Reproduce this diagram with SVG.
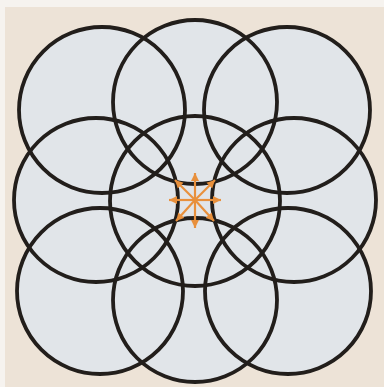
<svg xmlns="http://www.w3.org/2000/svg" width="384" height="387" viewBox="0 0 384 387">
  <defs>
    <style>
      .fill { fill: #e1e5e9; stroke: none; }
      .ring { fill: none; stroke: #221e1b; stroke-width: 3.8; }
      .arrow { stroke: #e8903c; stroke-width: 2.2; fill: none; marker-end: url(#head); }
    </style>
    <marker id="head" markerUnits="userSpaceOnUse" markerWidth="9" markerHeight="9" refX="8" refY="4.5" orient="auto">
      <path d="M0,0.5 L8,4.5 L0,8.5 Z" fill="#e8903c"/>
    </marker>
    <circle id="c-tl" cx="102" cy="110" r="83"/>
    <circle id="c-tm" cx="195" cy="102" r="82"/>
    <circle id="c-tr" cx="287" cy="110" r="83"/>
    <circle id="c-ml" cx="96" cy="200" r="82"/>
    <circle id="c-c" cx="195" cy="201" r="85"/>
    <circle id="c-mr" cx="294" cy="200" r="82"/>
    <circle id="c-bl" cx="100" cy="291" r="83"/>
    <circle id="c-bm" cx="195" cy="300" r="82"/>
    <circle id="c-br" cx="288" cy="291" r="83"/>
  </defs>
  <rect width="384" height="387" fill="#ede3d7"/>
  <rect x="0" y="0" width="384" height="7" fill="#f6f3ef"/>
  <rect x="0" y="0" width="5" height="387" fill="#f6f3ef"/>
  <g id="fills">
    <use href="#c-tl" class="fill"/>
    <use href="#c-tm" class="fill"/>
    <use href="#c-tr" class="fill"/>
    <use href="#c-ml" class="fill"/>
    <use href="#c-c" class="fill"/>
    <use href="#c-mr" class="fill"/>
    <use href="#c-bl" class="fill"/>
    <use href="#c-bm" class="fill"/>
    <use href="#c-br" class="fill"/>
  </g>
  <g id="circle-tl"><use href="#c-tl" class="ring"/></g>
  <g id="circle-tm"><use href="#c-tm" class="ring"/></g>
  <g id="circle-tr"><use href="#c-tr" class="ring"/></g>
  <g id="circle-ml"><use href="#c-ml" class="ring"/></g>
  <g id="circle-c"><use href="#c-c" class="ring"/></g>
  <g id="circle-mr"><use href="#c-mr" class="ring"/></g>
  <g id="circle-bl"><use href="#c-bl" class="ring"/></g>
  <g id="circle-bm"><use href="#c-bm" class="ring"/></g>
  <g id="circle-br"><use href="#c-br" class="ring"/></g>
  <g id="arrows">
    <line class="arrow" x1="195" y1="200" x2="195" y2="173"/>
    <line class="arrow" x1="195" y1="200" x2="195" y2="228"/>
    <line class="arrow" x1="195" y1="200" x2="169" y2="200"/>
    <line class="arrow" x1="195" y1="200" x2="221" y2="200"/>
    <line class="arrow" x1="195" y1="200" x2="175" y2="180"/>
    <line class="arrow" x1="195" y1="200" x2="215" y2="180"/>
    <line class="arrow" x1="195" y1="200" x2="176" y2="221"/>
    <line class="arrow" x1="195" y1="200" x2="214" y2="221"/>
  </g>
</svg>
